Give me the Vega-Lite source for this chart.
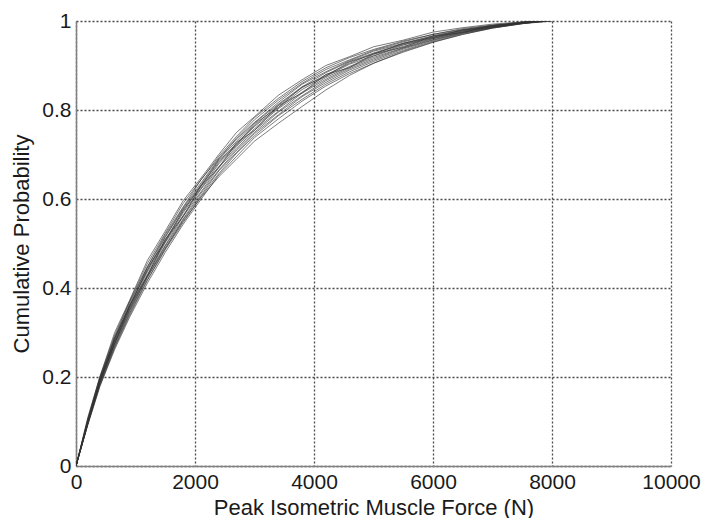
{
  "$schema": "https://vega.github.io/schema/vega-lite/v6.json",
  "autosize": {"type": "none"},
  "width": 595,
  "height": 445,
  "padding": {"left": 76, "top": 21, "right": 34, "bottom": 52},
  "background": "white",
  "config": {
    "view": {"stroke": null},
    "font": "Liberation Sans",
    "axis": {
      "labelFont": "Liberation Sans",
      "titleFont": "Liberation Sans",
      "labelFontSize": 21,
      "titleFontSize": 22,
      "labelColor": "#1a1a1a",
      "titleColor": "#1a1a1a",
      "titleFontWeight": "normal",
      "domainColor": "#808080",
      "domainWidth": 1.5,
      "ticks": false,
      "grid": true,
      "gridColor": "#4a4a4a",
      "gridDash": [2, 2],
      "gridWidth": 1.3,
      "gridOpacity": 1
    }
  },
  "datasets": {
    "curves": [
      {"s":1,"x":0,"y":0},{"s":1,"x":200,"y":0.11},{"s":1,"x":400,"y":0.2},{"s":1,"x":650,"y":0.3},{"s":1,"x":900,"y":0.372},{"s":1,"x":1200,"y":0.462},{"s":1,"x":1500,"y":0.528},{"s":1,"x":1800,"y":0.596},{"s":1,"x":2100,"y":0.647},{"s":1,"x":2400,"y":0.7},{"s":1,"x":2700,"y":0.75},{"s":1,"x":3000,"y":0.785},{"s":1,"x":3400,"y":0.833},{"s":1,"x":3800,"y":0.868},{"s":1,"x":4200,"y":0.9},{"s":1,"x":4600,"y":0.92},{"s":1,"x":5000,"y":0.942},{"s":1,"x":5500,"y":0.957},{"s":1,"x":6000,"y":0.975},{"s":1,"x":6500,"y":0.985},{"s":1,"x":7000,"y":0.993},{"s":1,"x":7500,"y":0.998},{"s":1,"x":7700,"y":1},
      {"s":2,"x":0,"y":0},{"s":2,"x":200,"y":0.107},{"s":2,"x":400,"y":0.2},{"s":2,"x":650,"y":0.294},{"s":2,"x":900,"y":0.37},{"s":2,"x":1200,"y":0.455},{"s":2,"x":1500,"y":0.523},{"s":2,"x":1800,"y":0.59},{"s":2,"x":2100,"y":0.643},{"s":2,"x":2400,"y":0.696},{"s":2,"x":2700,"y":0.741},{"s":2,"x":3000,"y":0.783},{"s":2,"x":3400,"y":0.826},{"s":2,"x":3800,"y":0.864},{"s":2,"x":4200,"y":0.895},{"s":2,"x":4600,"y":0.918},{"s":2,"x":5000,"y":0.936},{"s":2,"x":5500,"y":0.955},{"s":2,"x":6000,"y":0.97},{"s":2,"x":6500,"y":0.983},{"s":2,"x":7000,"y":0.991},{"s":2,"x":7500,"y":0.997},{"s":2,"x":7650,"y":1},
      {"s":3,"x":0,"y":0},{"s":3,"x":200,"y":0.104},{"s":3,"x":400,"y":0.196},{"s":3,"x":650,"y":0.29},{"s":3,"x":900,"y":0.368},{"s":3,"x":1200,"y":0.448},{"s":3,"x":1500,"y":0.52},{"s":3,"x":1800,"y":0.582},{"s":3,"x":2100,"y":0.643},{"s":3,"x":2400,"y":0.692},{"s":3,"x":2700,"y":0.737},{"s":3,"x":3000,"y":0.778},{"s":3,"x":3400,"y":0.822},{"s":3,"x":3800,"y":0.86},{"s":3,"x":4200,"y":0.891},{"s":3,"x":4600,"y":0.913},{"s":3,"x":5000,"y":0.934},{"s":3,"x":5500,"y":0.953},{"s":3,"x":6000,"y":0.97},{"s":3,"x":6500,"y":0.981},{"s":3,"x":7000,"y":0.99},{"s":3,"x":7500,"y":0.997},{"s":3,"x":7800,"y":1},
      {"s":4,"x":0,"y":0},{"s":4,"x":200,"y":0.103},{"s":4,"x":400,"y":0.198},{"s":4,"x":650,"y":0.286},{"s":4,"x":900,"y":0.364},{"s":4,"x":1200,"y":0.447},{"s":4,"x":1500,"y":0.516},{"s":4,"x":1800,"y":0.58},{"s":4,"x":2100,"y":0.636},{"s":4,"x":2400,"y":0.69},{"s":4,"x":2700,"y":0.735},{"s":4,"x":3000,"y":0.772},{"s":4,"x":3400,"y":0.817},{"s":4,"x":3800,"y":0.858},{"s":4,"x":4200,"y":0.886},{"s":4,"x":4600,"y":0.911},{"s":4,"x":5000,"y":0.932},{"s":4,"x":5500,"y":0.95},{"s":4,"x":6000,"y":0.967},{"s":4,"x":6500,"y":0.98},{"s":4,"x":7000,"y":0.99},{"s":4,"x":7500,"y":0.996},{"s":4,"x":7900,"y":1},
      {"s":5,"x":0,"y":0},{"s":5,"x":200,"y":0.102},{"s":5,"x":400,"y":0.194},{"s":5,"x":650,"y":0.286},{"s":5,"x":900,"y":0.36},{"s":5,"x":1200,"y":0.44},{"s":5,"x":1500,"y":0.514},{"s":5,"x":1800,"y":0.577},{"s":5,"x":2100,"y":0.632},{"s":5,"x":2400,"y":0.688},{"s":5,"x":2700,"y":0.73},{"s":5,"x":3000,"y":0.771},{"s":5,"x":3400,"y":0.813},{"s":5,"x":3800,"y":0.852},{"s":5,"x":4200,"y":0.884},{"s":5,"x":4600,"y":0.909},{"s":5,"x":5000,"y":0.928},{"s":5,"x":5500,"y":0.949},{"s":5,"x":6000,"y":0.966},{"s":5,"x":6500,"y":0.979},{"s":5,"x":7000,"y":0.989},{"s":5,"x":7500,"y":0.997},{"s":5,"x":7700,"y":1},
      {"s":6,"x":0,"y":0},{"s":6,"x":200,"y":0.101},{"s":6,"x":400,"y":0.192},{"s":6,"x":650,"y":0.282},{"s":6,"x":900,"y":0.36},{"s":6,"x":1200,"y":0.44},{"s":6,"x":1500,"y":0.508},{"s":6,"x":1800,"y":0.572},{"s":6,"x":2100,"y":0.63},{"s":6,"x":2400,"y":0.682},{"s":6,"x":2700,"y":0.726},{"s":6,"x":3000,"y":0.765},{"s":6,"x":3400,"y":0.811},{"s":6,"x":3800,"y":0.85},{"s":6,"x":4200,"y":0.879},{"s":6,"x":4600,"y":0.905},{"s":6,"x":5000,"y":0.927},{"s":6,"x":5500,"y":0.947},{"s":6,"x":6000,"y":0.964},{"s":6,"x":6500,"y":0.978},{"s":6,"x":7000,"y":0.988},{"s":6,"x":7500,"y":0.996},{"s":6,"x":7850,"y":1},
      {"s":7,"x":0,"y":0},{"s":7,"x":200,"y":0.099},{"s":7,"x":400,"y":0.19},{"s":7,"x":650,"y":0.281},{"s":7,"x":900,"y":0.354},{"s":7,"x":1200,"y":0.436},{"s":7,"x":1500,"y":0.504},{"s":7,"x":1800,"y":0.569},{"s":7,"x":2100,"y":0.624},{"s":7,"x":2400,"y":0.679},{"s":7,"x":2700,"y":0.721},{"s":7,"x":3000,"y":0.763},{"s":7,"x":3400,"y":0.805},{"s":7,"x":3800,"y":0.846},{"s":7,"x":4200,"y":0.876},{"s":7,"x":4600,"y":0.903},{"s":7,"x":5000,"y":0.922},{"s":7,"x":5500,"y":0.946},{"s":7,"x":6000,"y":0.962},{"s":7,"x":6500,"y":0.977},{"s":7,"x":7000,"y":0.988},{"s":7,"x":7500,"y":0.996},{"s":7,"x":7800,"y":1},
      {"s":8,"x":0,"y":0},{"s":8,"x":200,"y":0.098},{"s":8,"x":400,"y":0.188},{"s":8,"x":650,"y":0.277},{"s":8,"x":900,"y":0.353},{"s":8,"x":1200,"y":0.43},{"s":8,"x":1500,"y":0.502},{"s":8,"x":1800,"y":0.563},{"s":8,"x":2100,"y":0.622},{"s":8,"x":2400,"y":0.673},{"s":8,"x":2700,"y":0.718},{"s":8,"x":3000,"y":0.758},{"s":8,"x":3400,"y":0.803},{"s":8,"x":3800,"y":0.84},{"s":8,"x":4200,"y":0.873},{"s":8,"x":4600,"y":0.898},{"s":8,"x":5000,"y":0.921},{"s":8,"x":5500,"y":0.943},{"s":8,"x":6000,"y":0.961},{"s":8,"x":6500,"y":0.976},{"s":8,"x":7000,"y":0.987},{"s":8,"x":7500,"y":0.995},{"s":8,"x":7900,"y":1},
      {"s":9,"x":0,"y":0},{"s":9,"x":200,"y":0.098},{"s":9,"x":400,"y":0.186},{"s":9,"x":650,"y":0.275},{"s":9,"x":900,"y":0.348},{"s":9,"x":1200,"y":0.428},{"s":9,"x":1500,"y":0.496},{"s":9,"x":1800,"y":0.561},{"s":9,"x":2100,"y":0.616},{"s":9,"x":2400,"y":0.671},{"s":9,"x":2700,"y":0.713},{"s":9,"x":3000,"y":0.755},{"s":9,"x":3400,"y":0.797},{"s":9,"x":3800,"y":0.838},{"s":9,"x":4200,"y":0.869},{"s":9,"x":4600,"y":0.896},{"s":9,"x":5000,"y":0.918},{"s":9,"x":5500,"y":0.94},{"s":9,"x":6000,"y":0.96},{"s":9,"x":6500,"y":0.975},{"s":9,"x":7000,"y":0.987},{"s":9,"x":7500,"y":0.995},{"s":9,"x":7950,"y":1},
      {"s":10,"x":0,"y":0},{"s":10,"x":200,"y":0.097},{"s":10,"x":400,"y":0.185},{"s":10,"x":650,"y":0.271},{"s":10,"x":900,"y":0.344},{"s":10,"x":1200,"y":0.424},{"s":10,"x":1500,"y":0.494},{"s":10,"x":1800,"y":0.555},{"s":10,"x":2100,"y":0.613},{"s":10,"x":2400,"y":0.665},{"s":10,"x":2700,"y":0.71},{"s":10,"x":3000,"y":0.75},{"s":10,"x":3400,"y":0.795},{"s":10,"x":3800,"y":0.832},{"s":10,"x":4200,"y":0.866},{"s":10,"x":4600,"y":0.893},{"s":10,"x":5000,"y":0.915},{"s":10,"x":5500,"y":0.939},{"s":10,"x":6000,"y":0.958},{"s":10,"x":6500,"y":0.974},{"s":10,"x":7000,"y":0.986},{"s":10,"x":7500,"y":0.995},{"s":10,"x":8000,"y":1},
      {"s":11,"x":0,"y":0},{"s":11,"x":200,"y":0.095},{"s":11,"x":400,"y":0.182},{"s":11,"x":650,"y":0.268},{"s":11,"x":900,"y":0.342},{"s":11,"x":1200,"y":0.419},{"s":11,"x":1500,"y":0.488},{"s":11,"x":1800,"y":0.553},{"s":11,"x":2100,"y":0.608},{"s":11,"x":2400,"y":0.663},{"s":11,"x":2700,"y":0.705},{"s":11,"x":3000,"y":0.747},{"s":11,"x":3400,"y":0.789},{"s":11,"x":3800,"y":0.83},{"s":11,"x":4200,"y":0.862},{"s":11,"x":4600,"y":0.89},{"s":11,"x":5000,"y":0.912},{"s":11,"x":5500,"y":0.937},{"s":11,"x":6000,"y":0.957},{"s":11,"x":6500,"y":0.973},{"s":11,"x":7000,"y":0.985},{"s":11,"x":7500,"y":0.995},{"s":11,"x":7750,"y":1},
      {"s":12,"x":0,"y":0},{"s":12,"x":200,"y":0.094},{"s":12,"x":400,"y":0.18},{"s":12,"x":650,"y":0.266},{"s":12,"x":900,"y":0.338},{"s":12,"x":1200,"y":0.417},{"s":12,"x":1500,"y":0.486},{"s":12,"x":1800,"y":0.547},{"s":12,"x":2100,"y":0.605},{"s":12,"x":2400,"y":0.657},{"s":12,"x":2700,"y":0.703},{"s":12,"x":3000,"y":0.742},{"s":12,"x":3400,"y":0.787},{"s":12,"x":3800,"y":0.824},{"s":12,"x":4200,"y":0.858},{"s":12,"x":4600,"y":0.886},{"s":12,"x":5000,"y":0.909},{"s":12,"x":5500,"y":0.934},{"s":12,"x":6000,"y":0.955},{"s":12,"x":6500,"y":0.972},{"s":12,"x":7000,"y":0.985},{"s":12,"x":7500,"y":0.994},{"s":12,"x":7900,"y":1},
      {"s":13,"x":0,"y":0},{"s":13,"x":200,"y":0.093},{"s":13,"x":400,"y":0.178},{"s":13,"x":650,"y":0.262},{"s":13,"x":900,"y":0.334},{"s":13,"x":1200,"y":0.411},{"s":13,"x":1500,"y":0.48},{"s":13,"x":1800,"y":0.543},{"s":13,"x":2100,"y":0.599},{"s":13,"x":2400,"y":0.654},{"s":13,"x":2700,"y":0.696},{"s":13,"x":3000,"y":0.738},{"s":13,"x":3400,"y":0.78},{"s":13,"x":3800,"y":0.82},{"s":13,"x":4200,"y":0.854},{"s":13,"x":4600,"y":0.882},{"s":13,"x":5000,"y":0.905},{"s":13,"x":5500,"y":0.932},{"s":13,"x":6000,"y":0.953},{"s":13,"x":6500,"y":0.97},{"s":13,"x":7000,"y":0.984},{"s":13,"x":7500,"y":0.994},{"s":13,"x":8000,"y":1},
      {"s":14,"x":0,"y":0},{"s":14,"x":200,"y":0.104},{"s":14,"x":400,"y":0.189},{"s":14,"x":650,"y":0.288},{"s":14,"x":900,"y":0.357},{"s":14,"x":1200,"y":0.445},{"s":14,"x":1500,"y":0.505},{"s":14,"x":1800,"y":0.575},{"s":14,"x":2100,"y":0.628},{"s":14,"x":2400,"y":0.686},{"s":14,"x":2700,"y":0.722},{"s":14,"x":3000,"y":0.769},{"s":14,"x":3400,"y":0.806},{"s":14,"x":3800,"y":0.852},{"s":14,"x":4200,"y":0.876},{"s":14,"x":4600,"y":0.908},{"s":14,"x":5000,"y":0.925},{"s":14,"x":5500,"y":0.95},{"s":14,"x":6000,"y":0.963},{"s":14,"x":6500,"y":0.98},{"s":14,"x":7000,"y":0.987},{"s":14,"x":7500,"y":0.997},{"s":14,"x":7600,"y":1},
      {"s":15,"x":0,"y":0},{"s":15,"x":200,"y":0.096},{"s":15,"x":400,"y":0.192},{"s":15,"x":650,"y":0.276},{"s":15,"x":900,"y":0.36},{"s":15,"x":1200,"y":0.427},{"s":15,"x":1500,"y":0.51},{"s":15,"x":1800,"y":0.56},{"s":15,"x":2100,"y":0.63},{"s":15,"x":2400,"y":0.67},{"s":15,"x":2700,"y":0.727},{"s":15,"x":3000,"y":0.754},{"s":15,"x":3400,"y":0.81},{"s":15,"x":3800,"y":0.838},{"s":15,"x":4200,"y":0.88},{"s":15,"x":4600,"y":0.895},{"s":15,"x":5000,"y":0.926},{"s":15,"x":5500,"y":0.941},{"s":15,"x":6000,"y":0.966},{"s":15,"x":6500,"y":0.974},{"s":15,"x":7000,"y":0.99},{"s":15,"x":7500,"y":0.995},{"s":15,"x":7700,"y":1},
      {"s":16,"x":0,"y":0},{"s":16,"x":200,"y":0.097},{"s":16,"x":400,"y":0.187},{"s":16,"x":650,"y":0.275},{"s":16,"x":900,"y":0.35},{"s":16,"x":1200,"y":0.425},{"s":16,"x":1500,"y":0.49},{"s":16,"x":1800,"y":0.55},{"s":16,"x":2100,"y":0.603},{"s":16,"x":2400,"y":0.65},{"s":16,"x":2700,"y":0.69},{"s":16,"x":3000,"y":0.73},{"s":16,"x":3400,"y":0.77},{"s":16,"x":3800,"y":0.808},{"s":16,"x":4200,"y":0.845},{"s":16,"x":4600,"y":0.878},{"s":16,"x":5000,"y":0.905},{"s":16,"x":5500,"y":0.93},{"s":16,"x":6000,"y":0.952},{"s":16,"x":6500,"y":0.97},{"s":16,"x":7000,"y":0.984},{"s":16,"x":7500,"y":0.994},{"s":16,"x":7850,"y":1}
    ]
  },
  "data": {"name": "curves"},
  "mark": {"type": "line", "stroke": "#333333", "strokeWidth": 0.8, "opacity": 0.8, "clip": true},
  "encoding": {
    "x": {
      "field": "x",
      "type": "quantitative",
      "scale": {"domain": [0, 10000], "nice": false, "zero": false},
      "axis": {
        "values": [0, 2000, 4000, 6000, 8000, 10000],
        "format": "d",
        "title": "Peak Isometric Muscle Force (N)",
        "labelPadding": 5,
        "titleBaseline": "alphabetic",
        "titleY": 48,
        "labelFlush": false,
        "labelOverlap": false
      }
    },
    "y": {
      "field": "y",
      "type": "quantitative",
      "scale": {"domain": [0, 1], "nice": false},
      "axis": {
        "values": [0, 0.2, 0.4, 0.6, 0.8, 1],
        "format": "~g",
        "title": "Cumulative Probability",
        "labelPadding": 5,
        "titleBaseline": "alphabetic",
        "titleX": -48,
        "labelFlush": false,
        "labelOverlap": false
      }
    },
    "detail": {"field": "s", "type": "nominal"}
  }
}
